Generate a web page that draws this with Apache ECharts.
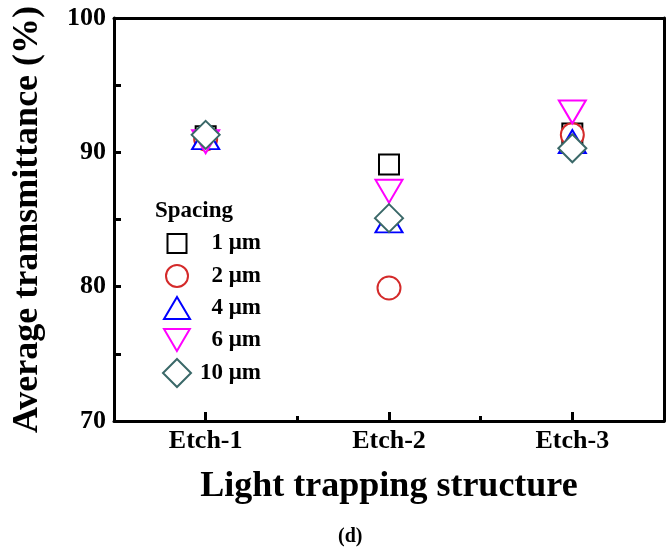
<!DOCTYPE html>
<html><head><meta charset="utf-8">
<script src="https://cdn.jsdelivr.net/npm/echarts@6/dist/echarts.min.js"></script>
<style>html,body{margin:0;padding:0;background:#fff}#c{width:672px;height:547px}</style>
</head><body><div id="c"></div>
<script>
const categories = ['Etch-1', 'Etch-2', 'Etch-3'];
const seriesNames = ['1 μm', '2 μm', '4 μm', '6 μm', '10 μm'];
const spacing1 = [91.2, 89.1, 91.4];
const spacing2 = [91.0, 79.9, 91.3];
const spacing4 = [91.1, 84.9, 90.8];
const spacing6 = [90.8, 87.1, 93.0];
const spacing10 = [91.3, 85.1, 90.3];
const yMin = 70, yMax = 100, yStep = 10;

const FONT = '"Liberation Serif", "Times New Roman", serif';
const values = [spacing1, spacing2, spacing4, spacing6, spacing10];
const colors = ['#000000', '#d42a2a', '#0000ff', '#ff00ff', '#3a6868'];
const symbols = ['rect', 'circle', 'triangle', 'path://M0,0 L27,0 L13.5,23 Z', 'diamond'];
const sizes = [[20, 20], [23, 23], [27, 23], [27, 23], [28, 28]];
const legendIcon = [[19, 19], [22, 22], [26, 22], [26, 22], [28, 28]];
const legendTextY = [244, 276, 308, 340, 372];

const series = values.map((v, i) => ({
  name: seriesNames[i], type: 'scatter', xAxisIndex: 0, yAxisIndex: 0,
  data: v, symbol: symbols[i], symbolSize: sizes[i], symbolKeepAspect: false,
  itemStyle: { color: '#ffffff', borderColor: colors[i], borderWidth: 2, opacity: 1 },
  emphasis: { disabled: true }, z: 10 + i
}));

const legends = seriesNames.map((n, i) => {
  const w = legendIcon[i][0], h = legendIcon[i][1];
  const left = 176 - w / 2;
  const textW = 260 - (left + w + 5);
  return {
    data: [n], left: left, top: legendTextY[i] - Math.max(h, 24) / 2, padding: 0,
    itemWidth: w, itemHeight: h, itemGap: 0, selectedMode: false,
    itemStyle: { borderWidth: 2 },
    formatter: '{a|{name}}',
    textStyle: { fontFamily: FONT, fontWeight: 'bold', fontSize: 23, color: '#000',
      rich: { a: { width: textW, align: 'right', fontFamily: FONT, fontWeight: 'bold', fontSize: 23, color: '#000', lineHeight: 24 } } }
  };
});

const bold = { fontFamily: FONT, fontWeight: 'bold', color: '#000' };
const option = {
  animation: false,
  backgroundColor: '#fff',
  title: [
    { text: 'Spacing', left: 155, top: 200, padding: 0, textStyle: Object.assign({ fontSize: 23 }, bold) },
    { text: '(d)', left: 338, top: 527, padding: 0, textStyle: Object.assign({ fontSize: 20 }, bold) }
  ],
  legend: legends,
  grid: { left: 114, top: 18, right: 8, bottom: 126, containLabel: false },
  xAxis: [
    { type: 'category', data: categories, position: 'bottom', boundaryGap: true,
      axisLine: { show: true, lineStyle: { color: '#000', width: 3 } },
      axisTick: { show: true, alignWithLabel: true, inside: true, length: 9, lineStyle: { color: '#000', width: 3 } },
      axisLabel: Object.assign({ margin: 7, fontSize: 26 }, bold),
      splitLine: { show: false },
      name: 'Light trapping structure', nameLocation: 'middle', nameGap: 48,
      nameTextStyle: Object.assign({ fontSize: 36 }, bold) },
    { type: 'category', data: categories, position: 'bottom', boundaryGap: true,
      axisLine: { show: false },
      axisTick: { show: true, inside: true, length: 5, lineStyle: { color: '#000', width: 3 } },
      axisLabel: { show: false }, splitLine: { show: false } },
    { type: 'category', data: categories, position: 'top', boundaryGap: true,
      axisLine: { show: true, lineStyle: { color: '#000', width: 3 } },
      axisTick: { show: false }, axisLabel: { show: false }, splitLine: { show: false } }
  ],
  yAxis: [
    { type: 'value', min: yMin, max: yMax, interval: yStep, position: 'left',
      axisLine: { show: true, lineStyle: { color: '#000', width: 3 } },
      axisTick: { show: true, inside: true, length: 7, lineStyle: { color: '#000', width: 3 } },
      minorTick: { show: true, splitNumber: 2, length: 7, lineStyle: { color: '#000', width: 3 } },
      splitLine: { show: false }, minorSplitLine: { show: false },
      axisLabel: Object.assign({ margin: 8, fontSize: 26 }, bold),
      name: 'Average tramsmittance (%)', nameLocation: 'middle', nameGap: 68,
      nameTextStyle: Object.assign({ fontSize: 36 }, bold) },
    { type: 'value', min: yMin, max: yMax, interval: yStep, position: 'right',
      axisLine: { show: true, lineStyle: { color: '#000', width: 3 } },
      axisTick: { show: false }, axisLabel: { show: false }, splitLine: { show: false } }
  ],
  series: series
};
const chart = echarts.init(document.getElementById('c'), null, { renderer: 'canvas' });
chart.setOption(option);
</script></body></html>
